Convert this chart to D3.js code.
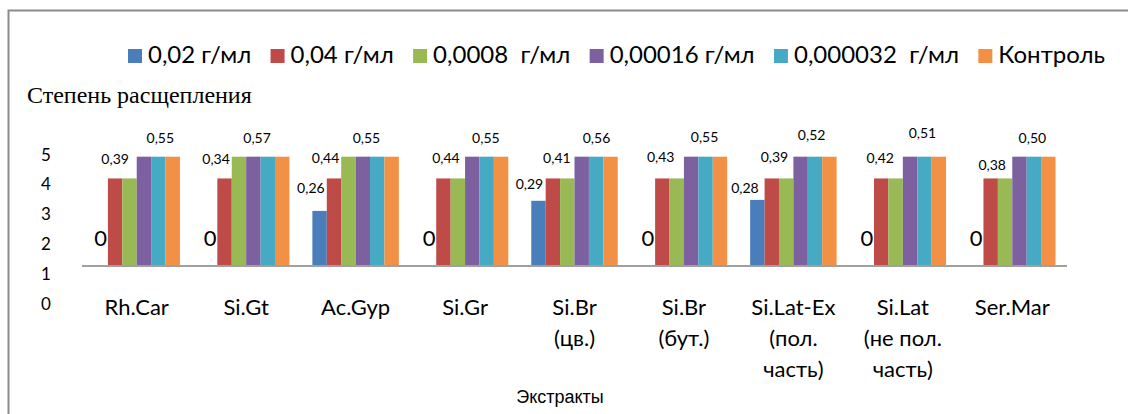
<!DOCTYPE html>
<html><head><meta charset="utf-8">
<script src="https://cdn.jsdelivr.net/npm/d3@7/dist/d3.min.js"></script>
<style>body{margin:0;background:#fff}svg{display:block}</style>
</head><body><svg id="c" width="1128" height="414"></svg>
<script>
// ---------- data ----------
const categories = [["Rh.Car"],["Si.Gt"],["Ac.Gyp"],["Si.Gr"],["Si.Br","(цв.)"],["Si.Br","(бут.)"],["Si.Lat-Ex","(пол.","часть)"],["Si.Lat","(не пол.","часть)"],["Ser.Mar"]];
const seriesNames = ["0,02 г/мл","0,04 г/мл","0,0008  г/мл","0,00016 г/мл","0,000032  г/мл","Контроль"];
// bar heights above the category axis, in y-axis units
const s002    = [0, 0, 1.85, 0, 2.19, 0, 2.22, 0, 0];
const s004    = [2.94, 2.94, 2.94, 2.94, 2.94, 2.94, 2.94, 2.94, 2.94];
const s00008  = [2.94, 3.67, 3.67, 2.94, 2.94, 2.94, 2.94, 2.94, 2.94];
const s000016 = [3.67, 3.67, 3.67, 3.67, 3.67, 3.67, 3.67, 3.67, 3.67];
const s000032 = [3.67, 3.67, 3.67, 3.67, 3.67, 3.67, 3.67, 3.67, 3.67];
const sControl= [3.67, 3.67, 3.67, 3.67, 3.67, 3.67, 3.67, 3.67, 3.67];
const yTicks = [0, 1, 2, 3, 4, 5];
// data labels
const blueLabels = ["0","0","0,26","0","0,29","0","0,28","0","0"];
const lowLabels  = ["0,39","0,34","0,44","0,44","0,41","0,43","0,39","0,42","0,38"];
const highLabels = ["0,55","0,57","0,55","0,55","0,56","0,55","0,52","0,51","0,50"];
const yTitle = "Степень расщепления";
const xTitle = "Экстракты";

// ---------- layout / style ----------
const series = [s002, s004, s00008, s000016, s000032, sControl];
const colors = ["#4A7EBB","#BE4B48","#98B954","#7D60A0","#46AAC5","#F29145"];
const axisBase = 1.24;           // level at which the category axis crosses
const FONT = "Lato, 'Open Sans', sans-serif";
// label nudges [dx from bar centre, height of label centre above bar top]
const blueNudge = [[0,27.5],[0,27.5],[-8.7,23],[0,27.5],[-9,16.7],[0,27.5],[-12.4,12],[0,27.5],[0,27.5]];
const lowNudge  = [[0,19.3],[-8.5,19.3],[-8.4,20.8],[2.5,20.8],[4,20.8],[-1.6,21.6],[2.7,21.6],[-1,20.3],[1.5,13.3]];
const highSer   = [4,3,3,4,4,4,4,4,4];
const highNudge = [[2,18.7],[3.7,18.7],[3.6,18.7],[-0.8,18.7],[0.4,18.7],[-1,20],[-3.4,21.7],[-2,23.7],[-1.5,18.7]];

const svg = d3.select("#c");

// frame
svg.append("path").attr("d","M8.5,414 V10.5 H1128").attr("fill","none")
  .attr("stroke","#8c8c8c").attr("stroke-width",2);

const y = d3.scaleLinear().domain([0,5]).range([303,154]);
const x0 = d3.scaleBand().domain(d3.range(categories.length)).range([82,1067])
  .paddingInner(0.21).paddingOuter(0.105);
const x1 = d3.scaleBand().domain(d3.range(series.length)).range([0, x0.bandwidth()]);

// y axis tick labels
const yAxis = d3.axisLeft(y).tickValues(yTicks).tickSize(0).tickPadding(0).tickFormat(d3.format("d"));
const ya = svg.append("g").attr("transform","translate(46,0)").call(yAxis);
ya.select(".domain").remove();
ya.selectAll("text").attr("text-anchor","middle").attr("dy","0.36em")
  .style("font-family",FONT).style("font-size","17px").attr("fill","#000");

// bars
const gBars = svg.append("g");
series.forEach((vals, si) => {
  gBars.selectAll(null).data(vals).join("rect")
    .attr("x", (d,i) => x0(i) + x1(si))
    .attr("width", x1.bandwidth())
    .attr("y", d => y(axisBase + d))
    .attr("height", d => y(axisBase) - y(axisBase + d))
    .attr("fill", colors[si]);
});

// category axis line
svg.append("line").attr("x1",x0.range()[0]).attr("x2",x0.range()[1])
  .attr("y1",y(axisBase)).attr("y2",y(axisBase))
  .attr("stroke","#a0a0a0").attr("stroke-width",2);

// category labels
const cl = svg.append("g");
categories.forEach((lines,i) => {
  const t = cl.append("text").attr("text-anchor","middle")
    .style("font-family",FONT).style("font-size","22px").attr("fill","#000");
  lines.forEach((ln,k) => t.append("tspan").attr("x", x0(i)+x0.bandwidth()/2)
    .attr("y", 315 + k*31).text(ln));
});

// data labels
function addLabels(texts, serIdx, nudge, bigZero){
  texts.forEach((txt,i) => {
    const si = Array.isArray(serIdx) ? serIdx[i] : serIdx;
    const v = series[si][i];
    const cx = x0(i) + x1(si) + x1.bandwidth()/2 + nudge[i][0];
    const top = y(axisBase + v);
    const fs = (bigZero && txt === "0") ? 22 : 14;
    const cy = top - nudge[i][1];
    svg.append("text").attr("x",cx).attr("y",cy + 0.36*fs)
      .attr("text-anchor","middle").style("font-family",FONT)
      .style("font-size",fs+"px").attr("fill","#000").text(txt);
  });
}
addLabels(blueLabels, 0, blueNudge, true);
addLabels(lowLabels, 1, lowNudge, false);
addLabels(highLabels, highSer, highNudge, false);

// titles
svg.append("text").attr("x",27).attr("y",103)
  .style("font-family","'Liberation Serif','Times New Roman',serif").style("font-size","24px")
  .attr("fill","#000").text(yTitle);
svg.append("text").attr("x",560).attr("y",403).attr("text-anchor","middle")
  .style("font-family","'Liberation Sans',Arial,sans-serif").style("font-size","18px")
  .attr("fill","#000").text(xTitle);

// legend
const lg = svg.append("g");
const items = seriesNames.map((name,i) => {
  const g = lg.append("g");
  g.append("rect").attr("width",14).attr("height",14).attr("y",49).attr("fill",colors[i]);
  const t = g.append("text").attr("x",20).attr("y",63).style("white-space","pre")
    .attr("xml:space","preserve")
    .style("font-family",FONT).style("font-size","24px").attr("fill","#000").text(name);
  return {g, w: 20 + t.node().getComputedTextLength()};
});
const L0 = 128, L1 = 1105;
const total = d3.sum(items, d => d.w);
const gap = (L1 - L0 - total) / (items.length - 1);
let cx = L0;
items.forEach(it => { it.g.attr("transform",`translate(${cx},0)`); cx += it.w + gap; });
</script></body></html>
